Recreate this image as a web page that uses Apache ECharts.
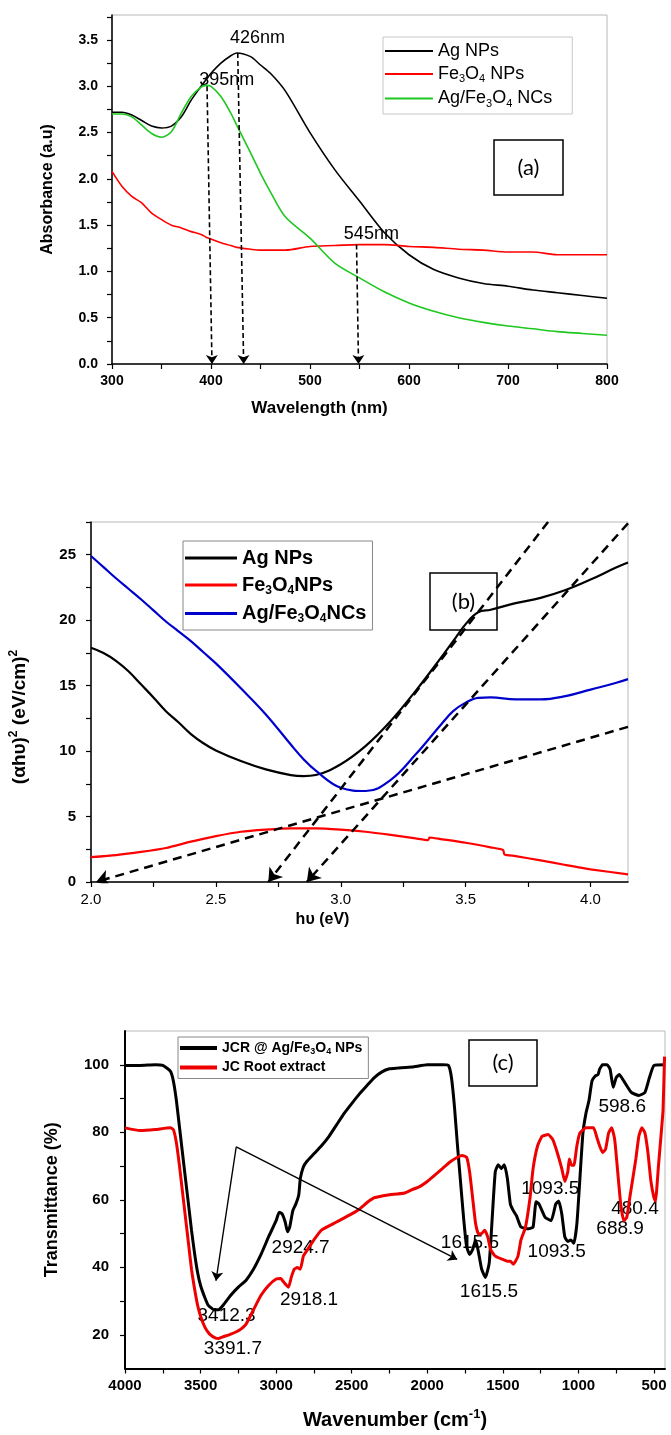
<!DOCTYPE html>
<html>
<head>
<meta charset="utf-8">
<script src="https://cdn.jsdelivr.net/npm/echarts@6/dist/echarts.min.js"></script>
<style>
  html, body { margin: 0; padding: 0; background: #fff; }
  .panel { position: absolute; left: 0; width: 671px; }
  #chartA { top: 0; height: 440px; }
  #chartB { top: 440px; height: 500px; }
  #chartC { top: 940px; height: 495px; }
</style>
</head>
<body>
<div id="chartA" class="panel"></div>
<div id="chartB" class="panel"></div>
<div id="chartC" class="panel"></div>
<script>
// ---------- panel (a): UV-vis absorbance ----------
const aWavelength = [300, 310, 320, 330, 340, 350, 360, 370, 380, 390, 395, 400, 410, 420, 426, 440, 450, 460, 475, 500, 525, 550, 575, 600, 625, 650, 675, 700, 725, 750, 775, 800]
const aAgNPs = [2.72, 2.72, 2.69, 2.63, 2.57, 2.55, 2.57, 2.67, 2.85, 3.00, 3.07, 3.14, 3.25, 3.33, 3.36, 3.32, 3.23, 3.14, 2.95, 2.50, 2.10, 1.76, 1.42, 1.18, 1.02, 0.93, 0.87, 0.84, 0.80, 0.77, 0.74, 0.71]
const aFeNPs = [2.08, 1.92, 1.81, 1.74, 1.63, 1.56, 1.50, 1.47, 1.43, 1.40, 1.37, 1.35, 1.31, 1.28, 1.26, 1.24, 1.23, 1.23, 1.23, 1.27, 1.28, 1.29, 1.29, 1.27, 1.26, 1.24, 1.23, 1.21, 1.21, 1.18, 1.18, 1.18]
const aNCs = [2.70, 2.70, 2.67, 2.58, 2.49, 2.45, 2.51, 2.71, 2.89, 2.99, 3.01, 3.00, 2.89, 2.71, 2.58, 2.28, 2.06, 1.86, 1.59, 1.36, 1.09, 0.93, 0.78, 0.66, 0.57, 0.50, 0.45, 0.41, 0.38, 0.35, 0.33, 0.31]
const aXTicks = [300, 350, 400, 450, 500, 550, 600, 650, 700, 750, 800]
const aXLabels = [300, 400, 500, 600, 700, 800]
const aYTicks = [0, 0.25, 0.5, 0.75, 1, 1.25, 1.5, 1.75, 2, 2.25, 2.5, 2.75, 3, 3.25, 3.5, 3.75]
const aYLabels = [0, 0.5, 1, 1.5, 2, 2.5, 3, 3.5]
const aArrows = [[[396, 3.0], [401, 0]], [[427, 3.36], [433, 0]], [[547, 1.29], [549, 0]]]
const aNotes = [['426nm', 447, 3.52], ['395nm', 416, 3.07], ['545nm', 562, 1.40]]

// ---------- panel (b): Tauc plot ----------
const bEnergy = [2.0, 2.05, 2.1, 2.15, 2.2, 2.25, 2.3, 2.35, 2.4, 2.45, 2.5, 2.6, 2.7, 2.8, 2.85, 2.9, 3.0, 3.1, 3.2, 3.3, 3.4, 3.45, 3.5, 3.55, 3.6, 3.7, 3.8, 3.9, 4.0, 4.1, 4.15]
const bAgNPs = [17.9, 17.5, 16.9, 16.1, 15.1, 14.1, 13.05, 12.2, 11.3, 10.6, 10.05, 9.24, 8.6, 8.17, 8.09, 8.17, 9.0, 10.4, 12.3, 14.6, 17.1, 18.4, 19.7, 20.6, 20.8, 21.3, 21.7, 22.3, 23.1, 24.0, 24.4]
const bNCs = [24.9, 24.05, 23.2, 22.4, 21.6, 20.75, 19.9, 19.15, 18.4, 17.55, 16.7, 14.8, 12.8, 10.5, 9.4, 8.5, 7.2, 6.95, 7.8, 9.75, 12.0, 13.05, 13.7, 14.07, 14.1, 13.95, 13.95, 14.2, 14.7, 15.2, 15.5]
const bFeEnergy = [2.0, 2.1, 2.2, 2.3, 2.4, 2.5, 2.6, 2.7, 2.8, 2.9, 3.0, 3.1, 3.2, 3.3, 3.35, 3.355, 3.4, 3.5, 3.6, 3.65, 3.655, 3.7, 3.8, 3.9, 4.0, 4.15]
const bFeNPs = [1.9, 2.06, 2.3, 2.6, 3.08, 3.5, 3.84, 4.0, 4.1, 4.1, 4.0, 3.84, 3.6, 3.33, 3.2, 3.4, 3.28, 3.0, 2.65, 2.45, 2.1, 1.98, 1.65, 1.3, 0.97, 0.58]
const bXTicks = [2.0, 2.25, 2.5, 2.75, 3.0, 3.25, 3.5, 3.75, 4.0]
const bXLabels = [2.0, 2.5, 3.0, 3.5, 4.0]
const bYTicks = [0, 2.5, 5, 7.5, 10, 12.5, 15, 17.5, 20, 22.5, 25, 27.5]
const bYLabels = [0, 5, 10, 15, 20, 25]
const bFits = [[[3.83, 27.5], [2.71, 0]], [[4.15, 27.4], [2.864, 0]], [[4.15, 11.85], [2.02, 0]]]

// ---------- panel (c): FTIR ----------
const cWaveJCR = [4000, 3900, 3800, 3750, 3700, 3680, 3660, 3640, 3620, 3600, 3580, 3560, 3540, 3520, 3500, 3470, 3450, 3412, 3380, 3350, 3300, 3250, 3200, 3150, 3100, 3050, 3000, 2980, 2960, 2940, 2925, 2910, 2890, 2870, 2850, 2840, 2820, 2800, 2750, 2700, 2650, 2600, 2550, 2500, 2450, 2400, 2350, 2300, 2250, 2200, 2100, 2000, 1900, 1860, 1840, 1820, 1800, 1780, 1760, 1740, 1720, 1700, 1680, 1660, 1640, 1615, 1590, 1570, 1550, 1530, 1510, 1490, 1470, 1450, 1430, 1410, 1380, 1330, 1300, 1280, 1260, 1220, 1180, 1150, 1130, 1110, 1090, 1070, 1050, 1030, 1010, 990, 970, 950, 930, 910, 890, 870, 860, 840, 810, 790, 770, 750, 730, 700, 650, 600, 560, 530, 500, 427]
const cJCR = [99.8, 99.8, 100, 99.8, 98.1, 95.2, 89.4, 81.7, 74.0, 66.3, 58.7, 51, 44.2, 38.5, 34.6, 30.8, 28.8, 27.4, 27.4, 28.8, 31.7, 34.1, 36.1, 39.4, 43.8, 49, 53.8, 56.3, 55.8, 53.4, 50.5, 51.9, 56.7, 58.7, 61.5, 66.3, 69.7, 71.2, 73.6, 76, 78.8, 82.2, 85.6, 88.5, 91.3, 93.8, 96.2, 97.9, 98.8, 99, 99.3, 100, 100, 99.8, 96.2, 87.5, 76, 65.4, 54.8, 46.2, 43.8, 45.2, 48.1, 44.2, 39.4, 37, 41.3, 54.8, 68.3, 70.4, 69.2, 70.4, 66.3, 58.7, 56.7, 55.3, 51.9, 51.4, 51.9, 59.4, 58.7, 54.8, 53.8, 58.7, 59.6, 55.8, 49, 47.6, 48.1, 47.1, 52.9, 66.3, 79.8, 85.6, 89.4, 95.2, 96.6, 97.1, 98.6, 100, 100, 98.6, 93.3, 96.2, 97.1, 95.2, 91.8, 90.9, 91.8, 96.2, 99.8, 100]
const cWaveRoot = [4000, 3900, 3800, 3700, 3680, 3660, 3640, 3620, 3600, 3580, 3560, 3540, 3520, 3500, 3470, 3440, 3400, 3380, 3350, 3300, 3250, 3200, 3150, 3100, 3050, 3000, 2970, 2950, 2918, 2900, 2880, 2860, 2840, 2820, 2800, 2750, 2700, 2600, 2500, 2450, 2400, 2350, 2300, 2250, 2200, 2150, 2100, 2050, 2000, 1950, 1900, 1850, 1800, 1770, 1740, 1720, 1700, 1680, 1660, 1640, 1620, 1600, 1580, 1550, 1500, 1470, 1450, 1430, 1400, 1380, 1350, 1320, 1300, 1270, 1240, 1200, 1170, 1140, 1110, 1090, 1070, 1060, 1045, 1030, 1010, 990, 950, 900, 880, 860, 840, 820, 800, 780, 760, 740, 720, 700, 680, 660, 640, 620, 600, 580, 560, 540, 520, 500, 490, 470, 450, 440, 430]
const cRoot = [81.3, 80.5, 80.8, 81.3, 80.8, 76.9, 70.2, 62.5, 54.8, 47.1, 39.4, 33.7, 28.8, 25.5, 22.1, 20.2, 19, 18.9, 19.4, 20.2, 21.2, 23.1, 27.4, 31.7, 34.6, 36.5, 36.7, 35.6, 34.1, 37, 39.4, 39.9, 39.4, 43.3, 44.7, 48.1, 51, 53.4, 55.8, 57.2, 59.1, 60.6, 61.1, 61.5, 61.7, 62, 63, 63.9, 65.4, 67.3, 69.2, 71.2, 72.6, 73.1, 72.6, 68.3, 60.6, 52.9, 49.8, 50, 51, 49, 45.2, 43.3, 42.3, 41.8, 41.8, 40.9, 43.3, 48.1, 51.9, 60.6, 69.2, 76, 78.8, 79.3, 77.9, 74, 69.2, 65.4, 68.3, 72.1, 70.2, 70.2, 76, 79.8, 81.3, 81.3, 78.8, 76, 74, 75, 79.8, 81.3, 77.9, 68.3, 58.7, 53.8, 54.8, 60.6, 66.3, 72.1, 78.8, 81.3, 79.8, 74, 65.4, 60.6, 59.6, 70.2, 80.8, 86.5, 102.4]
const cXTicks = [500, 750, 1000, 1250, 1500, 1750, 2000, 2250, 2500, 2750, 3000, 3250, 3500, 3750, 4000]
const cXLabels = [500, 1000, 1500, 2000, 2500, 3000, 3500, 4000]
const cYTicks = [20, 30, 40, 50, 60, 70, 80, 90, 100]
const cYLabels = [20, 40, 60, 80, 100]
const cArrows = [[[3264, 75.7], [3398, 36]], [[3264, 75.7], [1802, 42.3]]]
const cNotes = [
  ['3412.3', 3328, 25.5], ['3391.7', 3286, 15.9], ['2924.7', 2838, 45.7], ['2918.1', 2782, 30.3],
  ['1615.5', 1718, 47.3], ['1615.5', 1592, 32.7], ['1093.5', 1186, 63.3], ['1093.5', 1144, 44.7],
  ['598.6', 710, 87.5], ['688.9', 724, 51.4], ['480.4', 626, 57.4]
]

const FONT = '"Liberation Sans", Arial, sans-serif'

function pairs(xs, ys) {
  return xs.map((x, i) => [x, ys[i]])
}

function richSubSup(size, weight) {
  return {
    sub: { fontSize: size, fontWeight: weight, fontFamily: FONT, color: '#000', padding: [size - 1, 0, 0, 0] },
    sup: { fontSize: size, fontWeight: weight, fontFamily: FONT, color: '#000', padding: [0, 0, size - 1, 0] }
  }
}

function valueAxis(o) {
  return {
    type: 'value',
    min: o.min,
    max: o.max,
    inverse: !!o.inverse,
    axisLine: { show: true, onZero: false, lineStyle: { color: '#000', width: o.lw || 1.5 } },
    axisTick: { show: true, customValues: o.ticks, length: 5, lineStyle: { color: '#000', width: 1.2 } },
    axisLabel: {
      customValues: o.labels,
      formatter: o.fmt,
      margin: o.margin,
      color: '#000',
      fontFamily: FONT,
      fontSize: o.fs,
      fontWeight: o.fw
    },
    splitLine: { show: false },
    name: o.name,
    nameLocation: 'middle',
    nameGap: o.gap,
    nameTextStyle: {
      color: '#000',
      fontFamily: FONT,
      fontSize: o.nameSize,
      fontWeight: 'bold',
      padding: o.namePad || 0,
      rich: richSubSup(Math.round(o.nameSize * 0.65), 'bold')
    }
  }
}

function lineSeries(name, data, color, width, smooth) {
  return {
    type: 'line',
    name: name,
    data: data,
    symbol: 'none',
    smooth: smooth,
    lineStyle: { color: color, width: width },
    itemStyle: { color: color },
    z: 3
  }
}

function arrowSeries(list, width, dash, size) {
  return {
    type: 'lines',
    coordinateSystem: 'cartesian2d',
    silent: true,
    symbol: ['none', 'arrow'],
    symbolSize: size,
    lineStyle: { color: '#000', width: width, type: dash, opacity: 1, curveness: 0 },
    data: list.map(a => ({ coords: a })),
    z: 4
  }
}

function noteSeries(list, size) {
  return {
    type: 'scatter',
    silent: true,
    symbolSize: 1,
    itemStyle: { color: 'rgba(0,0,0,0)' },
    label: {
      show: true, position: 'inside', formatter: '{b}', color: '#000', opacity: 1,
      textBorderWidth: 0, fontFamily: FONT, fontSize: size
    },
    data: list.map(n => ({ name: n[0], value: [n[1], n[2]] })),
    z: 1
  }
}

function legendBlock(o) {
  return {
    orient: 'vertical',
    left: o.left,
    top: o.top,
    icon: 'rect',
    itemWidth: o.iw,
    itemHeight: o.ih,
    itemGap: o.gap,
    padding: o.pad,
    backgroundColor: '#fff',
    borderColor: o.border,
    borderWidth: 1,
    data: o.names,
    formatter: name => o.labels[name],
    textStyle: {
      color: '#000',
      fontFamily: FONT,
      fontSize: o.fs,
      fontWeight: o.fw,
      rich: richSubSup(Math.round(o.fs * 0.62), o.fw)
    }
  }
}

function panelBox(x, y, w, h, text) {
  return {
    type: 'group',
    z: 100,
    children: [
      { type: 'rect', shape: { x: x, y: y, width: w, height: h }, style: { fill: '#fff', stroke: '#000', lineWidth: 1.5 } },
      { type: 'text', x: x + w / 2, y: y + h / 2, style: { text: text, fill: '#000', font: '22px Lato, "Open Sans", sans-serif', align: 'center', verticalAlign: 'middle' } }
    ]
  }
}

// ---------- chart (a) ----------
const chartA = echarts.init(document.getElementById('chartA'))
chartA.setOption({
  animation: false,
  grid: { left: 112, top: 15, width: 495, height: 349, show: true, borderColor: '#b8b8b8', borderWidth: 1 },
  xAxis: valueAxis({
    min: 300, max: 800, ticks: aXTicks, labels: aXLabels, fmt: v => String(v),
    fs: 14, fw: 'bold', margin: 10, name: 'Wavelength (nm)', gap: 36, nameSize: 17, namePad: [0, 80, 0, 0]
  }),
  yAxis: valueAxis({
    min: 0, max: 3.77, ticks: aYTicks, labels: aYLabels, fmt: v => v.toFixed(1),
    fs: 14, fw: 'bold', margin: 14, name: 'Absorbance (a.u)', gap: 56, nameSize: 16
  }),
  legend: legendBlock({
    left: 383, top: 37, iw: 48, ih: 2, gap: 5, pad: [5, 20, 5, 2], border: '#c8c8c8', fs: 18, fw: 'normal',
    names: ['Ag NPs', 'Fe3O4 NPs', 'Ag/Fe3O4 NCs'],
    labels: { 'Ag NPs': 'Ag NPs', 'Fe3O4 NPs': 'Fe{sub|3}O{sub|4} NPs', 'Ag/Fe3O4 NCs': 'Ag/Fe{sub|3}O{sub|4} NCs' }
  }),
  graphic: [panelBox(494, 140, 69, 55, '(a)')],
  series: [
    lineSeries('Ag NPs', pairs(aWavelength, aAgNPs), '#000000', 1.6, 0.3),
    lineSeries('Fe3O4 NPs', pairs(aWavelength, aFeNPs), '#ff0000', 1.6, 0.3),
    lineSeries('Ag/Fe3O4 NCs', pairs(aWavelength, aNCs), '#1ec81e', 1.6, 0.3),
    arrowSeries(aArrows, 1.6, [5, 3], 9),
    noteSeries(aNotes, 18)
  ]
})

// ---------- chart (b) ----------
const chartB = echarts.init(document.getElementById('chartB'))
chartB.setOption({
  animation: false,
  grid: { left: 90, top: 82, width: 538, height: 360, show: true, borderColor: '#b8b8b8', borderWidth: 1 },
  xAxis: valueAxis({
    min: 2, max: 4.15, ticks: bXTicks, labels: bXLabels, fmt: v => v.toFixed(1),
    fs: 15, fw: 'normal', margin: 10, name: 'h\u03c5 (eV)', gap: 25, nameSize: 16, namePad: [0, 74, 0, 0]
  }),
  yAxis: valueAxis({
    min: 0, max: 27.5, ticks: bYTicks, labels: bYLabels, fmt: v => String(v),
    fs: 15, fw: 'bold', margin: 15, name: '(\u03b1h\u03c5){sup|2} (eV/cm){sup|2}', gap: 60, nameSize: 19,
    namePad: [0, 30, 0, 0]
  }),
  legend: legendBlock({
    left: 183, top: 101, iw: 52, ih: 3, gap: 7, pad: [7, 6, 5, 2], border: '#888', fs: 20, fw: 'bold',
    names: ['Ag NPs', 'Fe3O4NPs', 'Ag/Fe3O4NCs'],
    labels: { 'Ag NPs': 'Ag NPs', 'Fe3O4NPs': 'Fe{sub|3}O{sub|4}NPs', 'Ag/Fe3O4NCs': 'Ag/Fe{sub|3}O{sub|4}NCs' }
  }),
  graphic: [panelBox(430, 133, 67, 57, '(b)')],
  series: [
    lineSeries('Ag NPs', pairs(bEnergy, bAgNPs), '#000000', 2.2, 0.4),
    lineSeries('Fe3O4NPs', pairs(bFeEnergy, bFeNPs), '#ff0000', 2.2, 0.2),
    lineSeries('Ag/Fe3O4NCs', pairs(bEnergy, bNCs), '#0000cc', 2.2, 0.4),
    arrowSeries(bFits, 2.5, [9, 6], 13)
  ]
})

// ---------- chart (c) ----------
const chartC = echarts.init(document.getElementById('chartC'))
chartC.setOption({
  animation: false,
  grid: { left: 125, top: 91, width: 540, height: 348, show: true, borderColor: '#b8b8b8', borderWidth: 1 },
  xAxis: valueAxis({
    min: 427, max: 4000, inverse: true, ticks: cXTicks, labels: cXLabels, fmt: v => String(v),
    fs: 15, fw: 'bold', margin: 10, name: 'Wavenumber (cm{sup|-1})', gap: 39, nameSize: 20, lw: 2
  }),
  yAxis: valueAxis({
    min: 10, max: 110, ticks: cYTicks, labels: cYLabels, fmt: v => String(v),
    fs: 15, fw: 'bold', margin: 16, name: 'Transmittance (%)', gap: 64, nameSize: 18, lw: 2
  }),
  legend: legendBlock({
    left: 178, top: 97, iw: 37, ih: 4, gap: 4, pad: [4, 6, 4, 2], border: '#888', fs: 14, fw: 'bold',
    names: ['JCR @ Ag/Fe3O4 NPs', 'JC Root extract'],
    labels: { 'JCR @ Ag/Fe3O4 NPs': 'JCR @ Ag/Fe{sub|3}O{sub|4} NPs', 'JC Root extract': 'JC Root extract' }
  }),
  graphic: [panelBox(469, 100, 68, 46, '(c)')],
  series: [
    lineSeries('JCR @ Ag/Fe3O4 NPs', pairs(cWaveJCR, cJCR), '#000000', 3, 0.15),
    lineSeries('JC Root extract', pairs(cWaveRoot, cRoot), '#ee0000', 3, 0.15),
    arrowSeries(cArrows, 1.4, 'solid', 9),
    noteSeries(cNotes, 19)
  ]
})
</script>
</body>
</html>
